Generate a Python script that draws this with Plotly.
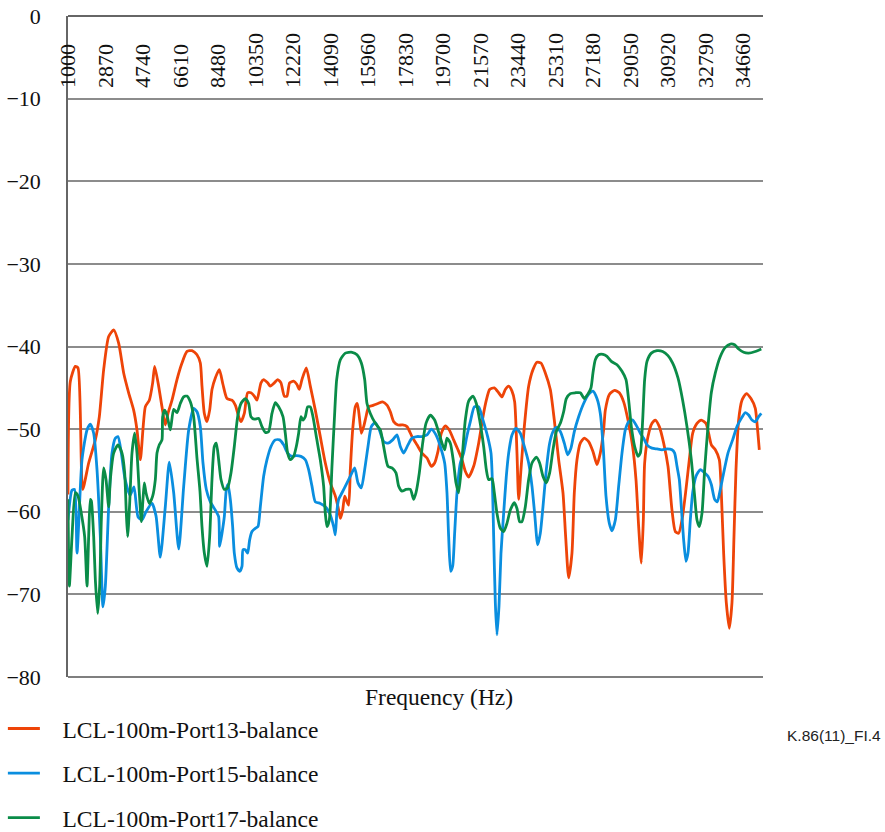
import plotly.graph_objects as go

# ---------------- data ----------------
tick_freqs = [1000, 2870, 4740, 6610, 8480, 10350, 12220, 14090, 15960, 17830,
              19700, 21570, 23440, 25310, 27180, 29050, 30920, 32790, 34660]
tick_labels = [str(v) for v in tick_freqs]

red_f = [1000, 1117, 1366, 1499, 1731, 2031, 2363, 2562, 2779, 3028, 3277, 3526, 3776, 4025,
         4274, 4441, 4607, 4856, 5055, 5222, 5321, 5521, 5687, 5853, 5986, 6186, 6435, 6684,
         6934, 7183, 7432, 7599, 7682, 7799, 7932, 8065, 8181, 8347, 8547, 8729, 8929, 9178,
         9344, 9511, 9627, 9793, 9959, 10125, 10292, 10425, 10624, 10757, 10956, 11089, 11289,
         11455, 11621, 11787, 11920, 12053, 12253, 12419, 12535, 12668, 12884, 13084, 13333,
         13582, 13832, 14081, 14332, 14465, 14582, 14698, 14798, 14897, 14997, 15080, 15196,
         15329, 15429, 15529, 15629, 15745, 15861, 15994, 16244, 16460, 16692, 16908, 17075,
         17241, 17457, 17689, 17906, 18155, 18404, 18653, 18903, 19119, 19285, 19451, 19617,
         19817, 20016, 20232, 20448, 20648, 20814, 20980, 21230, 21480, 21696, 21862, 22028,
         22261, 22477, 22643, 22809, 22976, 23142, 23275, 23391, 23474, 23590, 23757, 23973,
         24189, 24388, 24588, 24804, 25053, 25252, 25469, 25685, 25818, 25967, 26133, 26250,
         26383, 26549, 26748, 26964, 27180, 27380, 27546, 27712, 27797, 27997, 28263, 28495,
         28711, 28927, 29160, 29326, 29459, 29592, 29692, 29758, 29925, 30124, 30290, 30490,
         30706, 30922, 31121, 31287, 31454, 31620, 31819, 31985, 32152, 32368, 32584, 32816,
         32983, 33082, 33282, 33481, 33581, 33697, 33830, 33980, 34113, 34213, 34313, 34445,
         34611, 34827, 35060, 35276, 35376, 35476]
red_v = [-57.9, -44.2, -42.4, -42.6, -57.3, -54.1, -51.3, -48.5, -42.8, -38.8, -38.0, -39.6, -43.2, -45.6,
         -47.7, -50.1, -53.7, -47.3, -46.5, -44.4, -42.4, -44.8, -47.3, -49.5, -48.1, -46.5, -44.0, -42.0,
         -40.6, -40.5, -41.0, -42.0, -44.8, -48.1, -49.1, -47.7, -45.2, -43.8, -42.8, -44.6, -46.3, -46.5,
         -47.1, -48.5, -49.1, -48.1, -45.6, -45.6, -46.0, -46.5, -44.4, -44.0, -44.4, -44.8, -44.4,
         -44.0, -44.4, -46.0, -46.0, -44.4, -44.2, -44.6, -45.2, -44.0, -42.6, -44.8, -47.7,
         -50.9, -54.1, -56.5, -58.1, -59.4, -60.8, -59.8, -58.1, -58.7, -59.2, -54.9, -50.1,
         -47.3, -46.9, -48.5, -50.5, -49.7, -48.5, -47.3, -47.1, -46.9, -46.7, -47.1, -47.9,
         -49.1, -49.5, -49.5, -49.7, -50.9, -51.9, -52.9, -53.5, -54.5, -54.1, -52.7, -50.5,
         -49.6, -50.1, -51.3, -52.5, -53.7, -55.1, -55.8, -54.5, -51.7, -48.5, -46.5, -45.2,
         -45.0, -45.6, -46.1, -45.2, -44.8, -45.4, -46.7, -52.9, -58.5, -54.9, -49.7, -44.8,
         -42.8, -41.9, -42.0, -43.2, -45.2, -48.9, -53.7, -57.7, -63.0, -68.0, -65.0, -57.7,
         -53.7, -51.7, -51.1, -51.5, -52.7, -54.3, -52.9, -50.1, -47.7, -45.8, -45.3, -45.6,
         -46.7, -48.9, -52.1, -56.1, -61.8, -66.2, -61.0, -54.1, -50.9, -49.3, -48.9, -49.7,
         -51.7, -54.5, -59.8, -62.4, -62.6, -61.0, -57.3, -53.7, -50.5, -49.3, -48.9, -49.3,
         -50.9, -51.9, -52.5, -53.7, -57.7, -65.0, -71.0, -74.1, -71.0, -63.0, -54.9, -48.9,
         -46.5, -45.7, -46.3, -47.5, -49.7, -52.5]

blue_f = [1000, 1199, 1324, 1449, 1698, 1948, 2114, 2280, 2446, 2612, 2745, 2862, 3028, 3194, 3360,
          3493, 3659, 3843, 4092, 4291, 4491, 4690, 4890, 5189, 5389, 5603, 5852, 6052, 6271, 6521,
          6770, 7019, 7269, 7433, 7599, 7732, 7898, 8098, 8347, 8513, 8563, 8680, 8796, 8896, 8979,
          9095, 9211, 9294, 9427, 9560, 9677, 9727, 9843, 9959, 10059, 10175, 10342, 10474, 10591,
          10757, 10923, 11123, 11339, 11555, 11754, 11954, 12170, 12386, 12618, 12835, 13001, 13167,
          13333, 13582, 13832, 14048, 14249, 14332, 14415, 14498, 14665, 14914, 15080, 15296, 15462,
          15629, 15795, 15961, 16127, 16327, 16526, 16742, 16958, 17191, 17407, 17573, 17739, 17955,
          18155, 18404, 18653, 18903, 19119, 19351, 19568, 19784, 19900, 19983, 20083, 20183, 20282,
          20399, 20565, 20731, 20897, 21064, 21264, 21480, 21696, 21928, 22095, 22161, 22228, 22311,
          22394, 22494, 22593, 22726, 22859, 22976, 23142, 23341, 23557, 23757, 23973, 24139, 24272,
          24422, 24554, 24687, 24854, 25020, 25186, 25352, 25552, 25751, 25917, 26083, 26250, 26466,
          26715, 26964, 27180, 27380, 27546, 27700, 27830, 27997, 28130, 28296, 28462, 28628, 28794,
          28961, 29160, 29376, 29542, 29709, 29875, 30124, 30373, 30623, 30872, 31121, 31254, 31371,
          31487, 31587, 31703, 31819, 31919, 32035, 32152, 32318, 32534, 32700, 32916, 33082, 33249,
          33382, 33531, 33697, 33913, 34146, 34362, 34578, 34778, 34944, 35110, 35276, 35442, 35575]
blue_v = [-61.0, -57.4, -57.3, -65.0, -53.7, -50.1, -49.4, -50.5, -54.9, -63.0, -71.5, -69.0, -59.4, -52.9, -51.1,
          -50.9, -52.9, -56.0, -58.0, -57.0, -60.6, -61.0, -60.0, -59.0, -60.5, -65.5, -59.4, -54.0, -57.7, -64.5,
          -56.9, -50.1, -47.5, -47.9, -49.7, -54.1, -57.3, -58.8, -59.8, -60.6, -64.2, -62.6, -60.6, -57.3, -56.7,
          -58.5, -61.8, -65.0, -66.8, -67.2, -66.6, -64.6, -64.6, -65.0, -63.4, -62.4, -62.0, -61.8, -59.4,
          -55.7, -53.7, -52.1, -51.3, -51.3, -51.9, -52.9, -53.3, -53.2, -53.3, -53.7, -54.9, -56.9,
          -58.8, -59.0, -59.4, -60.2, -61.8, -62.8, -59.8, -58.5, -57.7, -56.5, -55.7, -54.7, -56.5,
          -57.1, -54.9, -52.1, -49.7, -49.2, -50.1, -51.5, -51.7, -51.3, -50.7, -52.1, -52.9, -51.9,
          -51.1, -50.9, -50.9, -50.7, -50.0, -50.7, -52.1, -54.1, -57.7, -63.0, -67.2, -66.6, -62.6,
          -57.7, -54.1, -52.9, -50.8, -49.1, -47.3, -47.3, -48.9, -50.9, -52.9, -56.1, -63.0, -71.0,
          -74.9, -71.4, -65.0, -60.2, -55.7, -52.9, -50.7, -49.9, -50.5, -52.1, -54.1, -56.9, -60.2,
          -64.0, -62.6, -59.4, -54.9, -51.7, -50.3, -49.8, -50.3, -51.7, -53.1, -52.3, -50.3, -48.5,
          -46.9, -45.8, -45.4, -46.3, -48.1, -52.5, -58.1, -61.4, -62.3, -61.0, -56.9, -52.9, -50.1,
          -49.1, -48.9, -49.7, -50.5, -51.1, -51.9, -52.3, -52.4, -52.5, -52.4, -52.5, -52.9, -54.5,
          -56.1, -59.4, -63.4, -66.0, -65.0, -61.0, -57.7, -55.7, -54.9, -55.2, -55.7, -56.7, -58.5,
          -58.8, -57.3, -55.3, -52.9, -51.3, -49.7, -48.7, -48.0, -48.3, -48.9, -49.1, -48.5, -48.1]

green_f = [1000, 1067, 1200, 1366, 1499, 1665, 1831, 1948, 2031, 2114, 2164, 2280, 2363, 2479, 2579,
           2662, 2779, 2895, 3028, 3111, 3277, 3493, 3693, 3826, 3909, 3975, 4075, 4191, 4324, 4441,
           4557, 4657, 4740, 4806, 4889, 5055, 5222, 5355, 5438, 5554, 5687, 5720, 5820, 5936, 6103,
           6269, 6435, 6601, 6767, 6934, 7100, 7266, 7432, 7582, 7682, 7799, 7932, 8065, 8181, 8297,
           8397, 8513, 8630, 8796, 8962, 9128, 9294, 9461, 9627, 9843, 10009, 10125, 10292, 10508,
           10674, 10840, 11006, 11172, 11339, 11505, 11721, 11837, 11954, 12087, 12253, 12386, 12502,
           12618, 12718, 12835, 12951, 13084, 13217, 13383, 13582, 13749, 13832, 13915, 14031, 14164,
           14282, 14399, 14582, 14831, 15163, 15413, 15629, 15795, 15911, 16077, 16327, 16576, 16742,
           16958, 17158, 17357, 17490, 17656, 17856, 18072, 18238, 18354, 18520, 18687, 18853, 19069,
           19285, 19451, 19651, 19784, 19900, 20066, 20232, 20349, 20482, 20648, 20814, 20980, 21197,
           21363, 21530, 21729, 21862, 21978, 22145, 22261, 22394, 22560, 22726, 22892, 23059, 23258,
           23391, 23524, 23640, 23807, 23973, 24139, 24355, 24521, 24687, 24854, 25020, 25186, 25352,
           25552, 25718, 25851, 26050, 26300, 26549, 26748, 26915, 27081, 27180, 27297, 27463, 27680,
           27880, 28096, 28379, 28628, 28828, 28961, 29094, 29260, 29426, 29542, 29659, 29758, 29875,
           30091, 30373, 30656, 30922, 31155, 31420, 31653, 31869, 32085, 32251, 32368, 32484, 32617,
           32750, 32916, 33082, 33282, 33531, 33780, 34030, 34246, 34445, 34695, 34944, 35276, 35575]
green_v = [-58.5, -69.0, -63.0, -57.7, -58.1, -60.2, -63.0, -69.0, -63.0, -58.5, -58.7, -63.0, -68.2, -72.3, -69.0,
           -61.0, -54.7, -56.1, -59.4, -56.1, -52.9, -51.9, -52.9, -55.3, -60.2, -63.0, -59.0, -52.9, -50.5, -52.9,
           -57.7, -61.2, -58.5, -56.5, -57.7, -59.0, -58.1, -56.1, -52.9, -51.9, -51.3, -48.5, -47.7, -48.3, -50.1,
           -47.6, -48.0, -46.9, -46.1, -46.0, -46.7, -48.5, -53.5, -57.5, -61.8, -65.0, -66.6, -63.0, -56.1, -52.1,
           -51.7, -53.7, -56.1, -57.3, -57.1, -55.3, -52.1, -48.5, -46.9, -46.3, -46.9, -48.5, -48.8, -48.7,
           -49.7, -50.4, -50.3, -48.1, -46.8, -47.3, -48.5, -50.5, -52.9, -53.7, -53.3, -52.1, -50.5,
           -48.5, -48.9, -48.5, -47.3, -47.3, -48.5, -50.9, -53.7, -56.9, -60.2, -61.8, -61.0, -54.5,
           -48.9, -44.0, -41.6, -40.8, -40.7, -41.0, -42.0, -44.0, -46.9, -48.1, -49.3, -50.1, -52.1,
           -54.5, -54.7, -55.3, -56.9, -57.5, -57.3, -57.3, -58.5, -57.7, -55.3, -51.7, -49.3, -48.3,
           -48.9, -50.1, -51.7, -52.5, -51.1, -51.7, -54.1, -56.5, -57.7, -53.7, -48.9, -46.6, -46.0,
           -46.9, -48.9, -52.1, -54.9, -56.1, -56.0, -57.7, -60.2, -62.0, -62.4, -61.4, -59.8, -58.9,
           -59.6, -61.2, -61.2, -59.4, -56.1, -54.1, -53.4, -54.1, -55.7, -56.5, -55.3, -52.5, -50.3,
           -49.3, -47.9, -46.3, -45.7, -45.6, -45.6, -46.3, -45.8, -45.0, -43.2, -41.6, -41.0, -40.95,
           -41.2, -41.8, -42.2, -43.0, -44.0, -46.5, -49.7, -52.1, -53.3, -52.9, -48.9, -44.0, -41.8,
           -40.8, -40.5, -40.6, -41.1, -42.0, -43.8, -46.5, -49.7, -53.7, -58.1, -61.0, -61.8, -60.2,
           -54.9, -49.7, -45.6, -43.2, -41.2, -40.1, -39.7, -39.8, -40.3, -40.7, -40.8, -40.6, -40.3]

series = [
    ("LCL-100m-Port13-balance", red_f, red_v, "#EE4408"),
    ("LCL-100m-Port15-balance", blue_f, blue_v, "#0A8EDF"),
    ("LCL-100m-Port17-balance", green_f, green_v, "#0A8C48"),
]

SERIF = "Liberation Serif, Times New Roman, serif"
PAD = "\u00a0\u00a0\u00a0"

fig = go.Figure()
for i, (name, f, v, c) in enumerate(series):
    fig.add_trace(go.Scatter(
        x=f, y=v, mode="lines", name=PAD + name, legendgroup=f"g{i}",
        line=dict(color=c, width=2.8, shape="spline", smoothing=0.6),
    ))

# dark reference lines at 0 (top), -60 and -80 (bottom), drawn between grid and traces
for yp, col, w in [(1.0, "#333333", 1.5), (0.25, "#333333", 1.2), (0.0, "#555555", 1.5)]:
    fig.add_shape(type="line", xref="paper", yref="paper", x0=0, x1=1, y0=yp, y1=yp,
                  line=dict(color=col, width=w), layer="between")

fig.add_annotation(text="Frequency (Hz)", xref="paper", yref="paper",
                   x=0.534, y=-0.031, showarrow=False, xanchor="center", yanchor="middle",
                   font=dict(family=SERIF, size=23.5, color="#111111"))
fig.add_annotation(text="K.86(11)_FI.4", xref="paper", yref="paper",
                   x=1.172, y=-0.089, showarrow=False, xanchor="right", yanchor="middle",
                   font=dict(family="Liberation Sans Narrow, Liberation Sans, Arial, sans-serif",
                             size=15.5, color="#222222"))

fig.update_layout(
    width=885, height=832,
    margin=dict(l=68, r=122, t=16, b=155, autoexpand=False),
    paper_bgcolor="white", plot_bgcolor="rgba(0,0,0,0)",
    font=dict(family=SERIF, size=22, color="#111111"),
    showlegend=True,
    legend=dict(x=-0.0937, xanchor="left", y=-0.045, yanchor="top",
                font=dict(family=SERIF, size=23.5, color="#111111"),
                tracegroupgap=11, itemwidth=32, bgcolor="rgba(0,0,0,0)"),
    xaxis=dict(range=[1000, 35660], tickmode="array", tickvals=tick_freqs, ticktext=tick_labels,
               side="top", anchor="free", position=0.891, tickangle=-90, automargin=False,
               showgrid=False, zeroline=False, showline=False, ticks="",
               tickfont=dict(family=SERIF, size=22, color="#111111")),
    yaxis=dict(range=[-80, 0], dtick=10, tick0=0, showgrid=True, gridcolor="#8c8c8c", gridwidth=1.5,
               zeroline=False, showline=True, linecolor="#666666", linewidth=1.5, automargin=False,
               ticks="", ticklabelstandoff=21,
               tickfont=dict(family=SERIF, size=22, color="#111111")),
)

# remove the default 8px page margin so the figure sits at the window's corner
fig.write_html("out.html", config={"displayModeBar": False},
               post_script="document.body.style.margin='0px';")
